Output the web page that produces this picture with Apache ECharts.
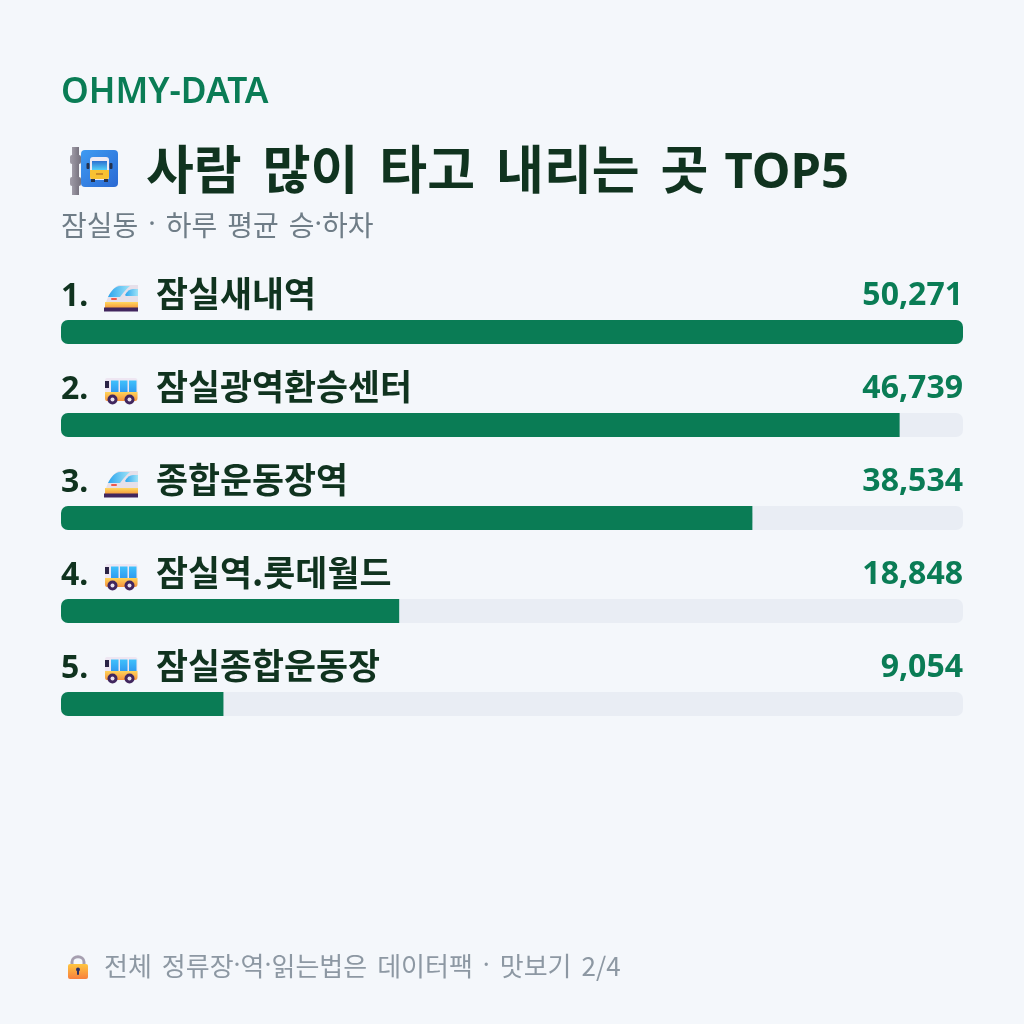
<!DOCTYPE html>
<html>
<head>
<meta charset="utf-8">
<style>html,body{margin:0;padding:0;background:#f4f7fb;}#chart{width:1024px;height:1024px;}</style>
<script src="https://cdn.jsdelivr.net/npm/echarts@6/dist/echarts.min.js"></script>
</head>
<body>
<div id="chart"></div>
<script>
const stations = ['잠실새내역', '잠실광역환승센터', '종합운동장역', '잠실역.롯데월드', '잠실종합운동장'];
const modes = ['train', 'bus', 'train', 'bus', 'bus'];
const riders = [50271, 46739, 38534, 18848, 9054];
const brand = 'OHMY-DATA';
const heading = '사람 많이 타고 내리는 곳';
const headingTail = 'TOP5';
const subheading = '잠실동 · 하루 평균 승·하차';
const footnote = '전체 정류장·역·읽는법은 데이터팩 · 맛보기 2/4';

const LATIN = '"Noto Sans", "Noto Sans CJK KR", sans-serif';
const HANGUL = '"Noto Sans CJK KR", "Noto Sans", sans-serif';
const GREEN = '#0a7c55', DARK = '#10331f', TRACK = '#e9edf4';
const peak = Math.max(...riders);

// Small pictograms, inlined as SVG so no request leaves the page.
const svg = (w, h, box, body) => 'data:image/svg+xml;charset=utf-8,' + encodeURIComponent(
  `<svg xmlns="http://www.w3.org/2000/svg" width="${w}" height="${h}" viewBox="${box}">${body}</svg>`);

const trainIcon = svg(34, 36, '0 -8 34 36', `
  <defs>
    <linearGradient id="a" x1="0" y1="0" x2="1" y2="0"><stop offset="0" stop-color="#2aa5ee"/><stop offset="1" stop-color="#9fe3f7"/></linearGradient>
    <linearGradient id="b" x1="0" y1="0" x2="0" y2="1"><stop offset="0" stop-color="#ffd75e"/><stop offset="1" stop-color="#f59a3c"/></linearGradient>
  </defs>
  <path d="M1 23 C2 15 8 3 15 1 H34 V23 Z" fill="#e6e0ea"/>
  <path d="M4 13 C7 7 11 2 16 2 H26 C22 5 19 9 16 13 Z" fill="url(#a)"/>
  <path d="M21 11 C23 7 26 5 29 5 H34 V12 H22 Z" fill="url(#a)"/>
  <path d="M1 18 H34 V24 H1 Z" fill="url(#b)"/>
  <rect x="7" y="14" width="6" height="2" rx="1" fill="#ef5a4c"/>
  <rect x="0" y="23.5" width="34" height="4" fill="#41265e"/>`);

const busIcon = svg(34, 36, '0 -8 34 36', `
  <defs>
    <linearGradient id="a" x1="0" y1="0" x2="0" y2="1"><stop offset="0" stop-color="#3fc1fb"/><stop offset="1" stop-color="#2f9bf0"/></linearGradient>
    <linearGradient id="b" x1="0" y1="0" x2="0" y2="1"><stop offset="0" stop-color="#ffd45a"/><stop offset="1" stop-color="#f5913c"/></linearGradient>
  </defs>
  <path d="M3 1 H31 Q33.500 1 33.500 4 V21 Q33.500 24 31 24 H3 Q1 24 1 21 V4 Q1 1 3 1 Z" fill="#eee6f2"/>
  <path d="M1 15 H33.500 V21 Q33.500 24 31 24 H3 Q1 24 1 21 Z" fill="url(#b)"/>
  <rect x="1" y="4" width="4" height="7" fill="#2b2446"/>
  <rect x="7" y="3.500" width="7.500" height="11.500" fill="url(#a)"/>
  <rect x="16" y="3.500" width="7.500" height="11.500" fill="url(#a)"/>
  <rect x="25" y="3.500" width="7.500" height="11.500" fill="url(#a)"/>
  <circle cx="8.500" cy="22.500" r="5" fill="#41265e"/><circle cx="8.500" cy="22.500" r="2" fill="#e9e2ef"/>
  <circle cx="25.500" cy="22.500" r="5" fill="#41265e"/><circle cx="25.500" cy="22.500" r="2" fill="#e9e2ef"/>`);

const stopIcon = svg(50, 50, '0 0 50 50', `
  <defs>
    <linearGradient id="p" x1="0" y1="0" x2="1" y2="0"><stop offset="0" stop-color="#a09ca8"/><stop offset="1" stop-color="#77737f"/></linearGradient>
    <linearGradient id="s" x1="0" y1="0" x2="1" y2="1"><stop offset="0" stop-color="#3f9bf2"/><stop offset="1" stop-color="#2a69d3"/></linearGradient>
    <linearGradient id="w" x1="0" y1="0" x2="0" y2="1"><stop offset="0" stop-color="#2c6fd0"/><stop offset="1" stop-color="#53d0f8"/></linearGradient>
  </defs>
  <rect x="2" y="0" width="7" height="48" fill="url(#p)"/>
  <rect x="0" y="8" width="11" height="9" rx="2" fill="url(#p)"/>
  <rect x="0" y="30" width="11" height="9" rx="2" fill="url(#p)"/>
  <rect x="11" y="3" width="37" height="37" rx="4" fill="url(#s)"/>
  <rect x="20" y="10" width="19" height="23" rx="3" fill="#efeaf3"/>
  <rect x="22" y="14" width="15" height="9" fill="url(#w)"/>
  <path d="M20 23 H39 V30 Q39 32 37 32 H22 Q20 32 20 30 Z" fill="#f8c132"/>
  <rect x="26" y="26" width="7" height="2" fill="#c98b2a"/>
  <rect x="16.500" y="16" width="3" height="6" rx="1" fill="#24324f"/>
  <rect x="39.500" y="16" width="3" height="6" rx="1" fill="#24324f"/>
  <rect x="21" y="32" width="4" height="3" fill="#24324f"/><rect x="34" y="32" width="4" height="3" fill="#24324f"/>`);

const lockIcon = svg(22, 26, '0 0 22 26', `
  <defs><linearGradient id="l" x1="0" y1="0" x2="0" y2="1"><stop offset="0" stop-color="#ffc63f"/><stop offset="1" stop-color="#f77f3e"/></linearGradient></defs>
  <path d="M5 11 V8 C5 1 17 1 17 8 V11" fill="none" stroke="#a69fb0" stroke-width="3"/>
  <rect x="1" y="10" width="20" height="15" rx="2" fill="url(#l)"/>
  <circle cx="11" cy="15.500" r="2" fill="#2b2f66"/><rect x="10" y="16" width="2" height="5" rx="1" fill="#2b2f66"/>`);

// Word gaps are wider and middle dots narrower than the Hangul font's own, so both get their own tokens.
const spaced = text => text.split(' ')
  .map(word => word.split('·').map(part => part ? `{w|${part}}` : '').join('{d|·}'))
  .join('{g| }');

const chart = echarts.init(document.getElementById('chart'));
chart.setOption({
  backgroundColor: '#f4f7fb',
  animation: false,
  grid: { left: 61, width: 902, top: 285.5, height: 465 },
  xAxis: { type: 'value', min: 0, max: peak, show: false },
  yAxis: { type: 'category', inverse: true, data: stations, show: false },
  series: [
    {
      type: 'bar', barWidth: 24, barGap: '-100%', silent: true,
      data: stations.map(() => peak),
      itemStyle: { color: TRACK, borderRadius: 7 },
      label: {
        show: true, position: [902, -40], align: 'right', fontFamily: LATIN,
        fontSize: 32, fontWeight: 700, color: GREEN,
        formatter: p => riders[p.dataIndex].toLocaleString('en-US')
      }
    },
    {
      type: 'bar', barWidth: 24, silent: true,
      data: riders.map(v => ({
        value: v,
        itemStyle: { borderRadius: v === peak ? 7 : [7, 0, 0, 7] }
      })),
      itemStyle: { color: GREEN },
      label: {
        show: true, position: [0, -45], align: 'left',
        formatter: p => `{num|${p.dataIndex + 1}.}{${modes[p.dataIndex]}| }{gap| }{name|${stations[p.dataIndex]}}`,
        rich: {
          num: { width: 43, padding: [6, 0, 0, 0], fontFamily: LATIN, fontSize: 32, fontWeight: 700, color: DARK },
          train: { width: 34, height: 36, backgroundColor: { image: trainIcon } },
          bus: { width: 34, height: 36, backgroundColor: { image: busIcon } },
          gap: { width: 18 },
          name: { fontFamily: HANGUL, fontSize: 34.8, fontWeight: 700, color: DARK }
        }
      }
    }
  ],
  graphic: [
    { type: 'text', left: 61, top: 75, style: { text: brand, font: `600 35.3px ${LATIN}`, fill: GREEN } },
    { type: 'image', left: 70, top: 147, style: { image: stopIcon, width: 50, height: 50 } },
    {
      type: 'text', left: 146, top: 143,
      style: {
        text: spaced(heading) + '{g2| }{t|' + headingTail + '}',
        rich: {
          w: { fontFamily: HANGUL, fontSize: 52, fontWeight: 700, fill: DARK },
          g: { width: 21, fontSize: 52 },
          g2: { width: 16, fontSize: 52 },
          t: { padding: [10, 0, 0, 0], fontFamily: LATIN, fontSize: 49, fontWeight: 700, fill: DARK }
        }
      }
    },
    {
      type: 'text', left: 61, top: 211,
      style: {
        text: spaced(subheading),
        rich: {
          w: { fontFamily: HANGUL, fontSize: 28, fill: '#6f7d87' },
          d: { fontFamily: LATIN, fontSize: 28, fill: '#6f7d87' },
          g: { width: 10, fontSize: 28 }
        }
      }
    },
    { type: 'image', left: 67, top: 954, style: { image: lockIcon, width: 22, height: 26 } },
    {
      type: 'text', left: 104, top: 953,
      style: {
        text: spaced(footnote),
        rich: {
          w: { fontFamily: HANGUL, fontSize: 26, fill: '#8d98a3' },
          d: { fontFamily: LATIN, fontSize: 26, fill: '#8d98a3' },
          g: { width: 10, fontSize: 26 }
        }
      }
    }
  ]
});
</script>
</body>
</html>
